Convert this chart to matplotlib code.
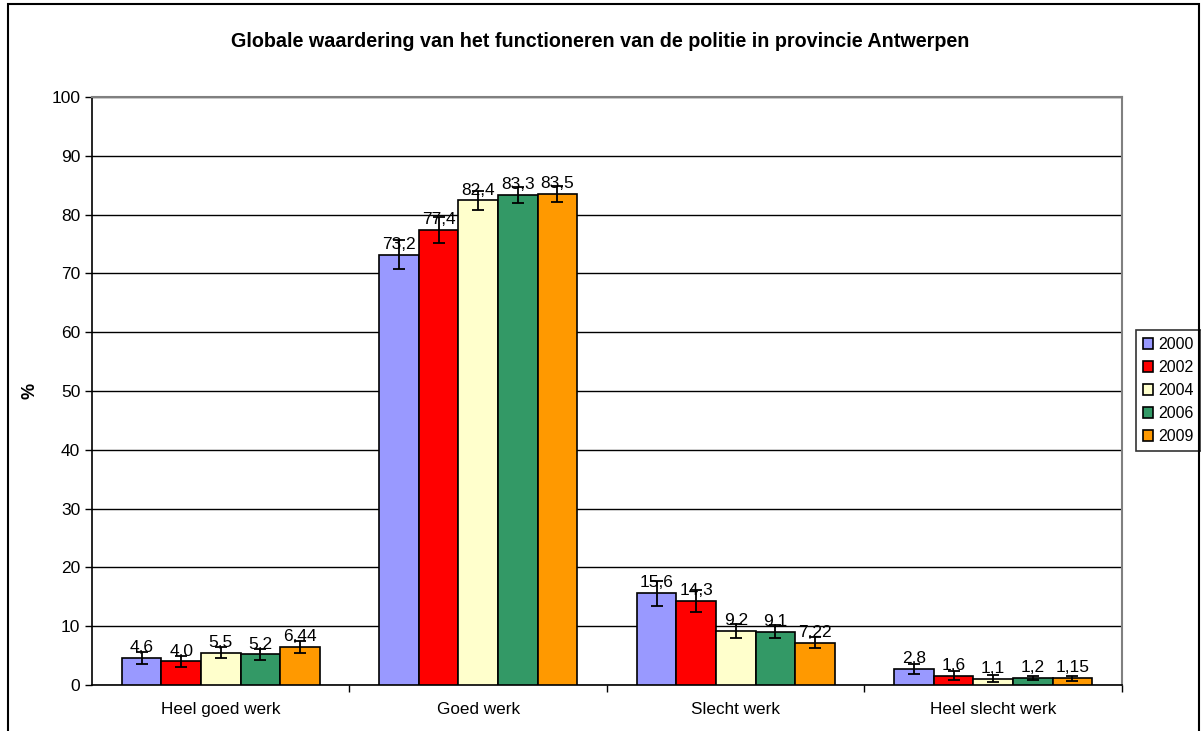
import numpy as np
import matplotlib.pyplot as plt
from matplotlib.patches import Rectangle

plt.rcParams['font.family'] = ['Liberation Sans', 'DejaVu Sans']

categories = ['Heel goed werk', 'Goed werk', 'Slecht werk', 'Heel slecht werk']
years = ['2000', '2002', '2004', '2006', '2009']
colors = ['#9999FF', '#FF0000', '#FFFFCC', '#339966', '#FF9900']

values = {
    '2000': [4.6, 73.2, 15.6, 2.8],
    '2002': [4.0, 77.4, 14.3, 1.6],
    '2004': [5.5, 82.4, 9.2, 1.1],
    '2006': [5.2, 83.3, 9.1, 1.2],
    '2009': [6.44, 83.5, 7.22, 1.15],
}
labels = {
    '2000': ['4,6', '73,2', '15,6', '2,8'],
    '2002': ['4,0', '77,4', '14,3', '1,6'],
    '2004': ['5,5', '82,4', '9,2', '1,1'],
    '2006': ['5,2', '83,3', '9,1', '1,2'],
    '2009': ['6,44', '83,5', '7,22', '1,15'],
}
errors = {
    '2000': [1.0, 2.4, 2.1, 0.85],
    '2002': [0.9, 2.2, 1.9, 0.7],
    '2004': [0.9, 1.6, 1.25, 0.6],
    '2006': [0.9, 1.4, 1.05, 0.4],
    '2009': [1.0, 1.4, 0.9, 0.4],
}

fig = plt.figure(figsize=(12.01, 7.31), dpi=100)
fig.patches.append(Rectangle((0.007, -0.01), 0.991, 1.005, transform=fig.transFigure,
                             fill=False, edgecolor='black', linewidth=1.5))
ax = fig.add_axes([0.0766, 0.0629, 0.8576, 0.8044])

x = np.arange(len(categories))
w = 1 / 6.5
for i, yr in enumerate(years):
    pos = x + (i - 2) * w
    ax.bar(pos, values[yr], width=w, color=colors[i], edgecolor='black',
           linewidth=1.2, zorder=3, label=yr)
    ax.errorbar(pos, values[yr], yerr=errors[yr], fmt='none', ecolor='black',
                elinewidth=1.3, capsize=4, capthick=1.3, zorder=4)
    for p, v, t in zip(pos, values[yr], labels[yr]):
        ax.text(p, v + 0.5, t, ha='center', va='bottom', fontsize=12.5, zorder=5)

ax.set_xlim(-0.5, 3.5)
ax.set_ylim(0, 100)
ax.set_yticks(range(0, 101, 10))
ax.tick_params(axis='y', labelsize=12.5, direction='out', length=5, width=1)
ax.set_xticks(x)
ax.set_xticklabels(categories, fontsize=12.3)
ax.tick_params(axis='x', length=0, pad=12)
ax.set_xticks([0.5, 1.5, 2.5, 3.5], minor=True)
ax.tick_params(axis='x', which='minor', length=5, width=1, direction='out')
ax.yaxis.grid(True, color='black', linewidth=1, zorder=0)
ax.set_axisbelow(True)
ax.spines['left'].set_linewidth(1.2)
ax.spines['bottom'].set_linewidth(1.2)
ax.spines['top'].set_color('#808080')
ax.spines['right'].set_color('#808080')
ax.spines['top'].set_linewidth(1.5)
ax.spines['right'].set_linewidth(1.5)
ax.set_ylabel('%', fontsize=13, fontweight='bold')
ax.yaxis.set_label_coords(-0.052, 0.5)

fig.text(0.5, 0.943, 'Globale waardering van het functioneren van de politie in provincie Antwerpen',
         ha='center', va='center', fontsize=14.2, fontweight='bold')

leg = ax.legend(loc='center left', bbox_to_anchor=(0.9458, 0.466), bbox_transform=fig.transFigure,
                fontsize=11.5, frameon=True, fancybox=False, handlelength=0.65, handleheight=0.65,
                handletextpad=0.3, borderpad=0.45, labelspacing=0.5, borderaxespad=0)
leg.get_frame().set_edgecolor('black')
leg.get_frame().set_linewidth(1.2)

fig.savefig('out.png', dpi=100)
